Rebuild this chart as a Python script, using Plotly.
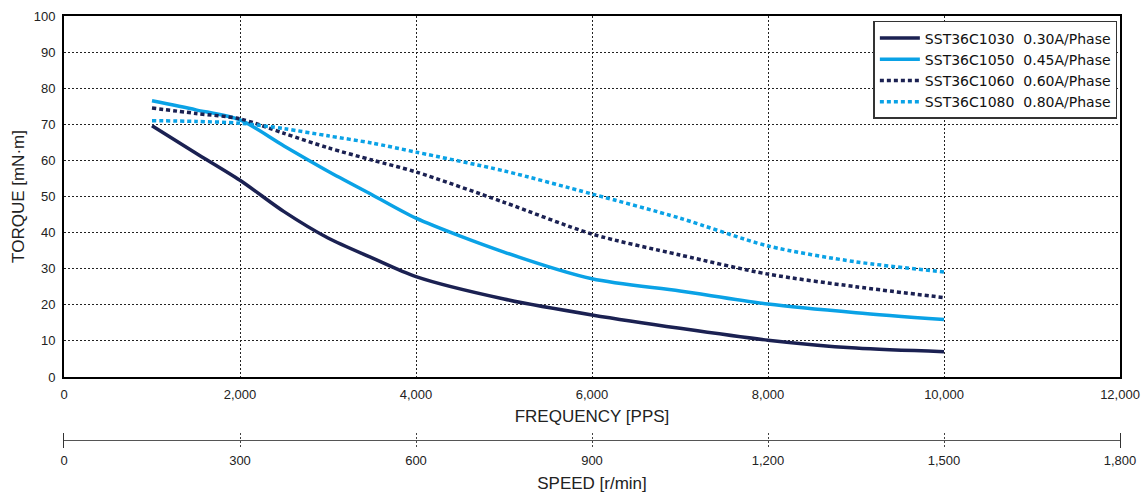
import plotly.graph_objects as go

# ---------------- data ----------------
freq = [1000, 1500, 2000, 2500, 3000, 3500, 4000, 5000, 6000, 7000, 8000, 9000, 10000]
t_1030 = [69.6, 62.0, 54.5, 45.8, 38.5, 33.0, 27.8, 21.6, 17.2, 13.5, 10.2, 8.0, 7.0]
t_1050 = [76.5, 74.0, 71.2, 64.0, 57.0, 50.5, 44.0, 34.6, 27.2, 23.8, 20.2, 17.8, 15.9]
t_1060 = [74.5, 73.0, 71.5, 67.5, 63.5, 60.1, 56.8, 48.4, 39.6, 33.8, 28.5, 25.0, 22.0]
t_1080 = [71.0, 70.8, 70.3, 68.8, 66.8, 64.8, 62.3, 57.1, 50.7, 44.0, 36.3, 31.9, 29.1]
series = [t_1030, t_1050, t_1060, t_1080]
names = ["SST36C1030\u00a0\u00a00.30A/Phase",
         "SST36C1050\u00a0\u00a00.45A/Phase",
         "SST36C1060\u00a0\u00a00.60A/Phase",
         "SST36C1080\u00a0\u00a00.80A/Phase"]
freq_ticks = [0, 2000, 4000, 6000, 8000, 10000, 12000]
torque_ticks = [0, 10, 20, 30, 40, 50, 60, 70, 80, 90, 100]
speed_ticks = [0, 300, 600, 900, 1200, 1500, 1800]

NAVY = "#1b2152"
CYAN = "#0aa2e6"
styles = [(NAVY, "solid"), (CYAN, "solid"), (NAVY, "4px,3px"), (CYAN, "4px,3px")]

FONT = "Liberation Sans, Arial, sans-serif"

fig = go.Figure()
for vals, name, (col, dash) in zip(series, names, styles):
    fig.add_trace(go.Scatter(
        x=freq, y=vals, name=name, mode="lines",
        line=dict(color=col, width=3.5, dash=dash, shape="spline", smoothing=0.8),
    ))
# empty trace to carry the secondary (speed) axis
fig.add_trace(go.Scatter(x=[], y=[], xaxis="x2", yaxis="y2", showlegend=False, hoverinfo="skip"))

grid = dict(showgrid=True, gridcolor="#222", gridwidth=1, griddash="2px,2px")

fig.update_layout(
    width=1144, height=493,
    margin=dict(l=64, r=24, t=16, b=45, autoexpand=False),
    paper_bgcolor="white", plot_bgcolor="white",
    font=dict(family=FONT, color="#222", size=13),
    showlegend=True,
    legend=dict(
        x=0.9975, xanchor="right", y=0.9885, yanchor="top",
        bgcolor="white", bordercolor="#333", borderwidth=1.5,
        font=dict(family="DejaVu Sans", size=14, color="#111"),
        tracegroupgap=0, itemwidth=40,
    ),
    xaxis=dict(
        domain=[0, 1], anchor="y", range=[0, 12000], automargin=False,
        tickvals=freq_ticks, tickformat=",", ticks="", ticklabelstandoff=4,
        showline=True, linecolor="black", linewidth=2, mirror=True, zeroline=False,
        title=dict(text="FREQUENCY [PPS]", font=dict(size=17, color="#222"), standoff=9),
        **grid,
    ),
    yaxis=dict(
        domain=[0.16435, 1], anchor="x", range=[0, 100], automargin=False,
        tickvals=torque_ticks, ticks="", ticklabelstandoff=4,
        showline=True, linecolor="black", linewidth=2, mirror=True, zeroline=False,
        title=dict(text="TORQUE [mN·m]", font=dict(size=17, color="#222"), standoff=5),
        **grid,
    ),
    xaxis2=dict(
        domain=[0, 1], anchor="y2", range=[0, 1800], automargin=False,
        tickvals=speed_ticks, tickformat=",", ticks="", ticklabelstandoff=3,
        showline=False, zeroline=False,
        title=dict(text="SPEED [r/min]", font=dict(size=17, color="#222"), standoff=10),
        showgrid=True, gridcolor="#444", gridwidth=1, griddash="2px,2px",
    ),
    yaxis2=dict(
        domain=[0, 0.0347], anchor="x2", range=[-1, 1], automargin=False,
        showticklabels=False, ticks="", showgrid=False,
        zeroline=True, zerolinecolor="#555", zerolinewidth=1,
        showline=True, mirror=True, linecolor="#333", linewidth=1,
    ),
)

fig.write_html(
    "out.html",
    config={"displayModeBar": False},
    post_script=(
        "document.body.style.margin='0';"
        "document.body.style.overflow='hidden';"
        "document.documentElement.style.overflow='hidden';"
    ),
)
